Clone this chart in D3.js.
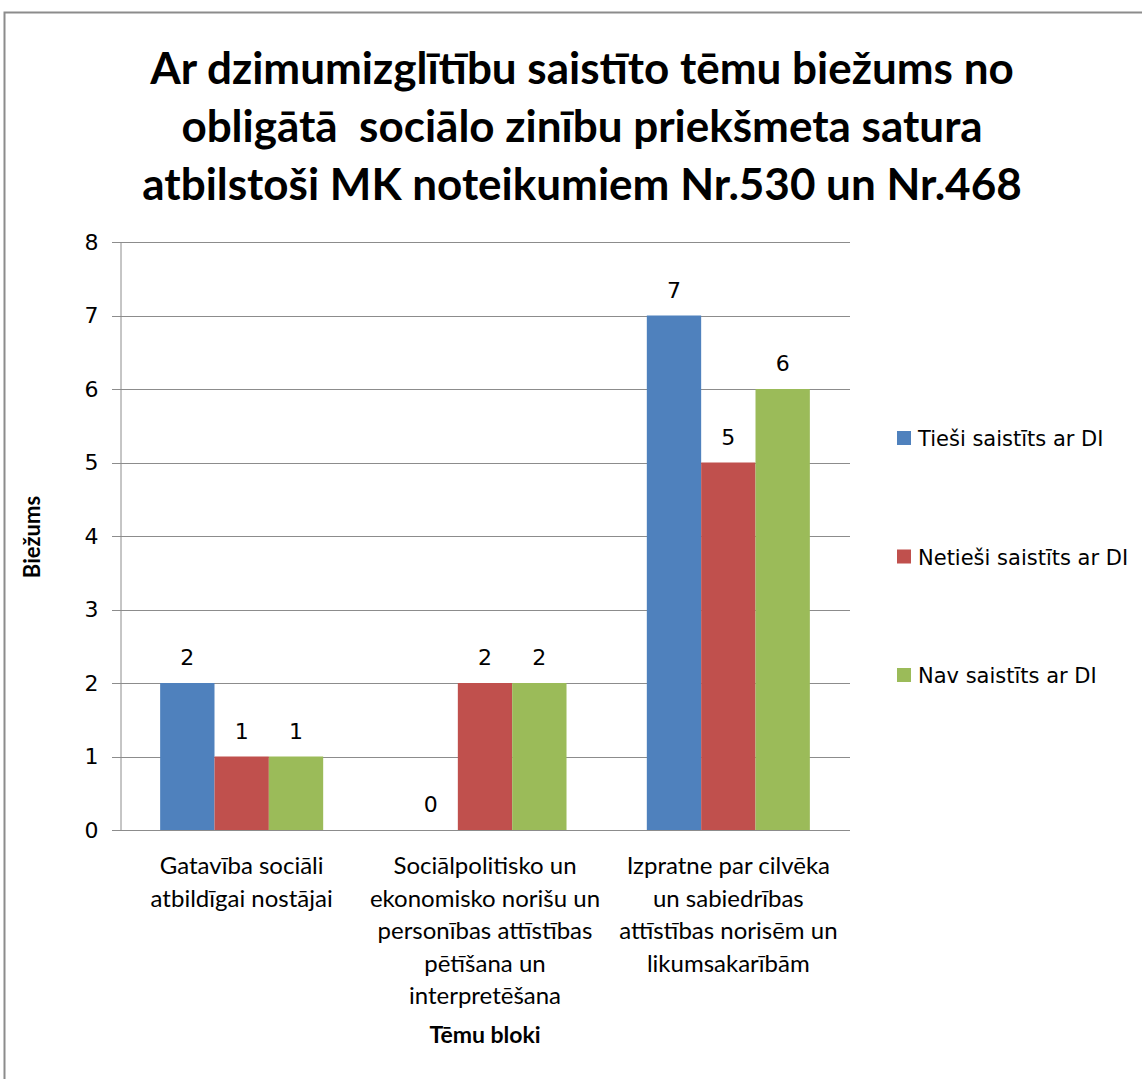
<!DOCTYPE html>
<html>
<head>
<meta charset="utf-8">
<script src="https://cdn.jsdelivr.net/npm/d3@7"></script>
<style>
  body { margin: 0; background: #fff; }
  svg { display: block; }
  text { white-space: pre; }
</style>
</head>
<body>
<script>
'use strict';

let titleLines = [
  'Ar dzimumizglītību saistīto tēmu biežums no',
  'obligātā  sociālo zinību priekšmeta satura',
  'atbilstoši MK noteikumiem Nr.530 un Nr.468'
];

let categories = [
  ['Gatavība sociāli', 'atbildīgai nostājai'],
  ['Sociālpolitisko un', 'ekonomisko norišu un', 'personības attīstības', 'pētīšana un', 'interpretēšana'],
  ['Izpratne par cilvēka', 'un sabiedrības', 'attīstības norisēm un', 'likumsakarībām']
];

let seriesNames = ['Tieši saistīts ar DI', 'Netieši saistīts ar DI', 'Nav saistīts ar DI'];
let seriesColors = ['#4f81bd', '#c0504d', '#9bbb59'];

let direct = [2, 0, 7];
let indirect = [1, 2, 5];
let none = [1, 2, 6];

let yTicks = [0, 1, 2, 3, 4, 5, 6, 7, 8];

let width = 1142;
let height = 1079;

let plot = { left: 120, right: 850, top: 242, bottom: 830 };

let svg = d3.select('body').append('svg')
    .attr('width', width)
    .attr('height', height);

// outer chart frame (only left and top edges visible)
svg.append('rect')
  .attr('x', 4.5).attr('y', 12.5)
  .attr('width', 1160).attr('height', 1100)
  .attr('fill', 'none')
  .attr('stroke', '#8c8c8c')
  .attr('stroke-width', 2);

let title = svg.append('text')
  .attr('text-anchor', 'middle')
  .style('font-family', 'Lato, "Open Sans", sans-serif')
  .style('font-weight', 'bold')
  .style('font-size', '44px')
  .attr('fill', '#000');
titleLines.forEach(function(t, i) {
  title.append('tspan')
    .attr('x', 582)
    .attr('y', 84 + i * 58)
    .text(t);
});

let y = d3.scaleLinear()
    .domain([0, 8])
    .range([plot.bottom, plot.top]);

let keys = categories.map(function(d, i) { return i; });

let x0 = d3.scaleBand()
    .domain(keys)
    .range([plot.left, plot.right]);

let gap = x0.bandwidth() * 0.165;
let x1 = d3.scaleBand()
    .domain(seriesNames)
    .range([gap, x0.bandwidth() - gap]);

// gridlines
svg.append('g')
  .selectAll('line')
  .data(yTicks)
  .enter().append('line')
    .attr('x1', plot.left - 8)
    .attr('x2', plot.right)
    .attr('y1', function(d) { return Math.round(y(d)) + 0.5; })
    .attr('y2', function(d) { return Math.round(y(d)) + 0.5; })
    .attr('stroke', '#8c8c8c')
    .attr('stroke-width', 1);

// y axis
let yAxis = svg.append('g')
  .attr('transform', 'translate(' + (plot.left + 0.5) + ',0)')
  .call(d3.axisLeft(y).tickValues(yTicks).tickSize(0).tickPadding(22).tickFormat(d3.format('d')));
yAxis.select('.domain').attr('stroke', '#8c8c8c');
yAxis.selectAll('text')
  .style('font-family', '"DejaVu Sans", sans-serif')
  .style('font-size', '22px')
  .attr('fill', '#000');

let data = [direct, indirect, none];

let groups = svg.append('g')
  .selectAll('g')
  .data(keys)
  .enter().append('g')
    .attr('transform', function(d) { return 'translate(' + x0(d) + ',0)'; });

groups.selectAll('rect')
  .data(function(c) {
    return seriesNames.map(function(s, i) { return { s: s, i: i, v: data[i][c] }; });
  })
  .enter().append('rect')
    .attr('x', function(d) { return x1(d.s); })
    .attr('width', x1.bandwidth())
    .attr('y', function(d) { return y(d.v); })
    .attr('height', function(d) { return y(0) - y(d.v); })
    .attr('fill', function(d) { return seriesColors[d.i]; });

groups.selectAll('text.val')
  .data(function(c) {
    return seriesNames.map(function(s, i) { return { s: s, i: i, v: data[i][c] }; });
  })
  .enter().append('text')
    .attr('class', 'val')
    .attr('x', function(d) { return x1(d.s) + x1.bandwidth() / 2; })
    .attr('y', function(d) { return y(d.v) - 18; })
    .attr('text-anchor', 'middle')
    .style('font-family', '"DejaVu Sans", sans-serif')
    .style('font-size', '22px')
    .text(function(d) { return d.v; });

// x axis line
svg.append('line')
  .attr('x1', plot.left).attr('x2', plot.right)
  .attr('y1', plot.bottom + 0.5).attr('y2', plot.bottom + 0.5)
  .attr('stroke', '#8c8c8c');

// category labels
let catText = svg.append('g')
  .selectAll('text')
  .data(keys)
  .enter().append('text')
    .attr('text-anchor', 'middle')
    .style('font-family', 'Lato, sans-serif')
    .style('font-size', '24px')
    .attr('fill', '#000');
catText.each(function(c) {
  let el = d3.select(this);
  categories[c].forEach(function(line, i) {
    el.append('tspan')
      .attr('x', x0(c) + x0.bandwidth() / 2)
      .attr('y', 874 + i * 32.5)
      .text(line);
  });
});

// axis titles
svg.append('text')
  .attr('x', 485)
  .attr('y', 1043)
  .attr('text-anchor', 'middle')
  .style('font-family', 'Lato, sans-serif')
  .style('font-weight', 'bold')
  .style('font-size', '23px')
  .text('Tēmu bloki');

svg.append('text')
  .attr('transform', 'translate(40,537) rotate(-90)')
  .attr('text-anchor', 'middle')
  .style('font-family', 'Lato, sans-serif')
  .style('font-weight', 'bold')
  .style('font-size', '22px')
  .text('Biežums');

// legend
let legend = svg.append('g')
  .selectAll('g')
  .data(seriesNames)
  .enter().append('g')
    .attr('transform', function(d, i) { return 'translate(897,' + (438 + i * 118.5) + ')'; });

legend.append('rect')
  .attr('x', 0).attr('y', -7)
  .attr('width', 14).attr('height', 14)
  .attr('fill', function(d, i) { return seriesColors[i]; });

legend.append('text')
  .attr('x', 21)
  .attr('y', 8)
  .style('font-family', '"DejaVu Sans", sans-serif')
  .style('font-size', '21px')
  .text(function(d) { return d; });
</script>
</body>
</html>
